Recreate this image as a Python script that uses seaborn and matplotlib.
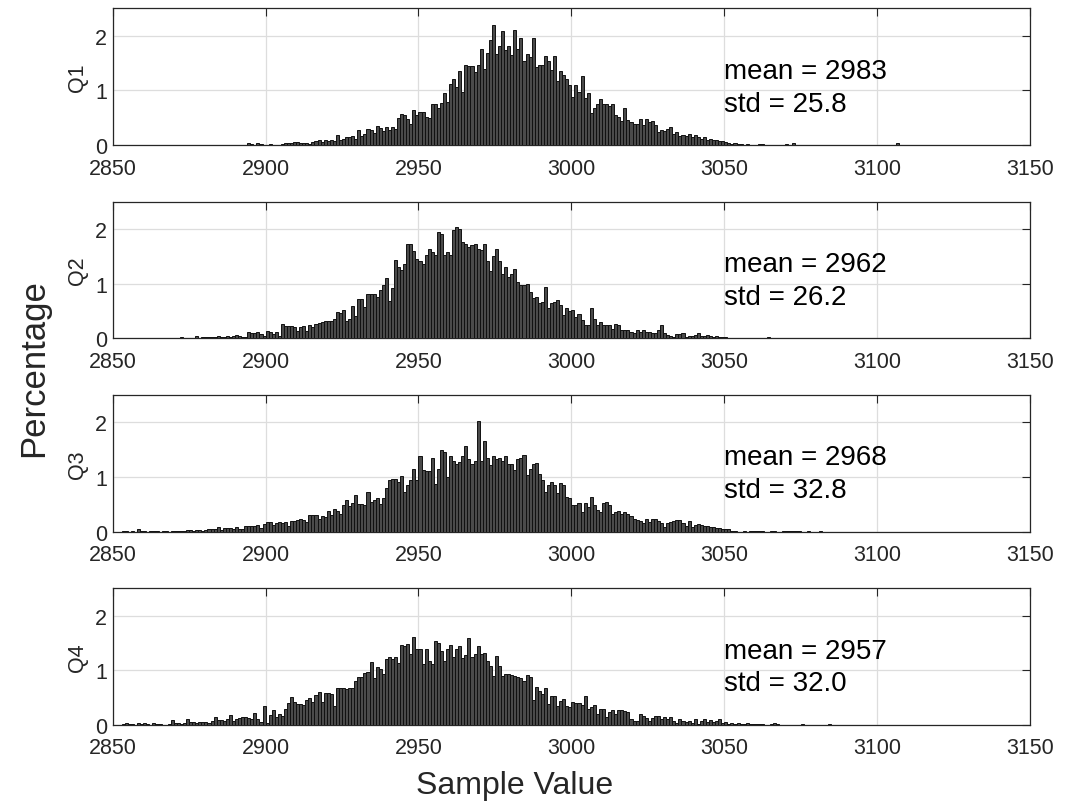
import numpy as np
import pandas as pd
import matplotlib
matplotlib.use("Agg")
import matplotlib.pyplot as plt
import seaborn as sns

# ---------------- data (percentage per 1-unit bin) ----------------
panel_labels = ["Q1", "Q2", "Q3", "Q4"]
means = [2983, 2962, 2968, 2957]
stds = [25.8, 26.2, 32.8, 32.0]

q1_start = 2877
q1_pct = [
    0.01, 0, 0, 0, 0, 0, 0, 0, 0, 0.01, 0.01, 0.01, 0, 0, 0, 0, 0,
    0.03, 0.02, 0, 0.03, 0.02, 0,
    0.0, 0.02, 0.01, 0.0, 0.01, 0.02, 0.03, 0.04, 0.04, 0.05,
    0.06, 0.04, 0.03, 0.03, 0.02, 0.05, 0.07, 0.09, 0.06, 0.1,
    0.08, 0.1, 0.08, 0.18, 0.1, 0.12, 0.15, 0.14, 0.17, 0.11,
    0.28, 0.17, 0.2, 0.3, 0.27, 0.22, 0.35, 0.31, 0.25, 0.33,
    0.27, 0.34, 0.3, 0.5,
    0.56, 0.55, 0.48, 0.39, 0.64, 0.55, 0.61, 0.61, 0.52, 0.5,
    0.76, 0.75, 0.68, 0.77, 0.95, 0.78, 1.11, 1.21, 1.07, 1.36,
    0.98, 1.47, 1.45, 1.45, 1.33, 1.47, 1.76, 1.39, 1.68, 1.92,
    2.19, 1.67, 1.82, 2.09, 1.73, 1.82, 1.65, 2.11, 1.76, 1.95,
    1.53, 1.67, 1.61, 1.95, 1.42, 1.47, 1.47, 1.62, 1.53, 1.38,
    1.62, 1.17, 1.35, 1.28, 1.21, 1.09, 0.88, 1.1, 0.98, 1.27,
    0.86, 0.95, 0.58, 0.67, 0.76, 0.85, 0.76, 0.76, 0.71, 0.76,
    0.55, 0.52, 0.44, 0.67, 0.45, 0.42, 0.38, 0.38, 0.48, 0.36,
    0.47, 0.42, 0.44, 0.36, 0.24, 0.28, 0.25, 0.3, 0.33, 0.21,
    0.24, 0.17, 0.18, 0.16, 0.21, 0.15, 0.19,
    0.14, 0.12, 0.15, 0.1, 0.12, 0.09, 0.1, 0.08, 0.07, 0.05,
    0.04, 0.02, 0.03, 0.02, 0.02, 0.01, 0.02, 0.01, 0, 0,
    0.02, 0.02, 0, 0, 0.01, 0, 0, 0, 0, 0.02, 0, 0.03,
    0, 0, 0, 0, 0, 0, 0, 0.01, 0, 0, 0, 0.01, 0, 0, 0, 0, 0, 0.01,
    0, 0, 0, 0, 0, 0, 0, 0, 0, 0, 0, 0, 0, 0, 0, 0.03,
]

q2_start = 2858
q2_pct = [
    0.01, 0, 0, 0, 0.01, 0, 0, 0, 0, 0.01, 0, 0, 0, 0, 0.02, 0, 0.01, 0, 0,
    0.04, 0.01, 0.02, 0.02, 0.03, 0.02, 0.03, 0.04, 0.03, 0.02, 0.05,
    0.03, 0.04, 0.06, 0.04, 0.03, 0.02, 0.12, 0.1, 0.1, 0.11, 0.08, 0.05,
    0.13, 0.12, 0.08, 0.11, 0.04, 0.26, 0.22, 0.22, 0.22, 0.2, 0.14,
    0.2, 0.23, 0.13, 0.24, 0.21, 0.26, 0.29, 0.3, 0.31, 0.32, 0.32,
    0.35, 0.48, 0.47, 0.52, 0.31, 0.36, 0.59, 0.41, 0.72, 0.72, 0.57,
    0.82, 0.82, 0.82, 0.76, 0.88, 0.98, 1.1, 0.68, 0.92, 1.44, 1.3,
    1.25, 1.36, 1.73, 1.72, 1.6, 1.45, 1.42, 1.36, 1.52, 1.64, 1.58,
    1.52, 1.94, 1.91, 1.52, 1.58, 1.52, 1.98, 2.03, 2.0, 1.76, 1.73,
    1.67, 1.7, 1.73, 1.64, 1.61, 1.73, 1.42, 1.24, 1.5, 1.64, 1.42,
    1.18, 1.3, 1.12, 1.18, 1.27, 1.03, 0.97, 0.97, 1.0, 0.85, 0.73,
    0.76, 0.64, 0.67, 0.94, 0.55, 0.64, 0.67, 0.7, 0.61, 0.42, 0.55,
    0.5, 0.52, 0.39, 0.45, 0.33, 0.24, 0.24, 0.55, 0.36, 0.24, 0.3,
    0.24, 0.24, 0.24, 0.18, 0.27, 0.24, 0.15, 0.15, 0.15, 0.12, 0.09,
    0.15, 0.12, 0.15, 0.12, 0.12, 0.09, 0.09, 0.15, 0.24, 0.09, 0.06,
    0.04, 0.02, 0.08, 0.08, 0.09, 0.03, 0.04, 0.04, 0.06, 0.09, 0.04,
    0.05, 0.06, 0.04, 0.03, 0.04, 0.02, 0.03, 0.02, 0, 0, 0, 0.01,
    0, 0, 0, 0, 0, 0, 0.01, 0, 0, 0.03, 0, 0, 0, 0, 0, 0, 0, 0, 0, 0,
    0.01, 0, 0, 0, 0.01,
]

q3_start = 2853
q3_pct = [
    0.02, 0.01, 0, 0.01, 0, 0.04, 0.01, 0.01, 0, 0.01, 0.01, 0.01, 0,
    0.01, 0.01, 0, 0.01, 0.01, 0.01, 0.01, 0.02, 0.03, 0.03, 0.02, 0.03,
    0.03, 0.02, 0.03, 0.05, 0.04, 0.04, 0.08, 0.03, 0.07, 0.06, 0.07,
    0.05, 0.08, 0.05, 0.04, 0.1, 0.1, 0.11, 0.1, 0.12, 0.07, 0.14,
    0.17, 0.17, 0.12, 0.16, 0.17, 0.15, 0.17, 0.1, 0.19, 0.2, 0.22,
    0.24, 0.21, 0.18, 0.31, 0.3, 0.3, 0.24, 0.28, 0.26, 0.38, 0.3,
    0.41, 0.38, 0.33, 0.49, 0.58, 0.47, 0.53, 0.67, 0.5, 0.5, 0.49,
    0.73, 0.55, 0.58, 0.61, 0.5, 0.61, 0.79, 0.95, 0.96, 0.96, 0.9,
    1.01, 0.73, 0.85, 0.95, 1.15, 0.95, 1.39, 1.12, 1.11, 1.11, 1.35,
    0.88, 1.15, 1.5, 1.45, 1.0, 1.38, 1.29, 1.24, 1.27, 1.39, 1.56,
    1.32, 1.23, 1.29, 2.02, 1.29, 1.65, 1.35, 1.21, 1.38, 1.33, 1.35,
    1.3, 1.38, 1.24, 1.23, 1.13, 1.33, 1.35, 1.41, 1.04, 1.15, 1.24,
    1.25, 1.06, 0.95, 0.73, 0.85, 0.91, 0.85, 0.7, 0.89, 0.85, 0.64,
    0.61, 0.48, 0.48, 0.52, 0.36, 0.52, 0.45, 0.64, 0.48, 0.39, 0.36,
    0.53, 0.55, 0.48, 0.33, 0.36, 0.38, 0.32, 0.36, 0.33, 0.28, 0.24,
    0.21, 0.19, 0.16, 0.24, 0.18, 0.24, 0.24, 0.19, 0.15, 0.08, 0.15,
    0.18, 0.19, 0.21, 0.22, 0.15, 0.1, 0.19, 0.08, 0.12, 0.14, 0.12,
    0.1, 0.11, 0.09, 0.08, 0.07, 0.06, 0.05, 0.04, 0.04, 0.02, 0.01,
    0, 0, 0.01, 0, 0.02, 0.01, 0.02, 0.01, 0.01, 0, 0, 0.01, 0.02, 0,
    0, 0.01, 0.02, 0.01, 0.02, 0.01, 0.01, 0, 0, 0.01, 0, 0, 0, 0.01,
]

q4_start = 2853
q4_pct = [
    0.02, 0.04, 0.01, 0.01, 0, 0.04, 0.01, 0.03, 0.01, 0, 0.03, 0.01,
    0.01, 0, 0, 0.01, 0.09, 0.04, 0.04, 0.02, 0.03, 0.11, 0.05, 0.05,
    0.04, 0.06, 0.06, 0.05, 0.04, 0.08, 0.14, 0.09, 0.09, 0.08, 0.1,
    0.18, 0.08, 0.1, 0.12, 0.15, 0.14, 0.12, 0.1, 0.21, 0.1, 0.06,
    0.34, 0.03, 0.18, 0.27, 0.15, 0.2, 0.17, 0.3, 0.4, 0.51, 0.42,
    0.38, 0.39, 0.36, 0.45, 0.49, 0.41, 0.55, 0.6, 0.42, 0.58, 0.58,
    0.56, 0.35, 0.67, 0.67, 0.68, 0.66, 0.67, 0.67, 0.8, 0.88, 0.88,
    0.95, 0.97, 1.15, 0.85, 1.05, 1.02, 0.93, 1.2, 1.24, 1.2, 1.25,
    1.13, 1.47, 1.44, 1.48, 1.29, 1.61, 1.39, 1.38, 1.11, 1.38, 1.17,
    1.11, 1.53, 1.5, 1.35, 1.17, 1.38, 1.47, 1.25, 1.38, 1.44, 1.22,
    1.27, 1.58, 1.25, 1.29, 1.44, 1.29, 1.32, 1.17, 1.08, 0.9, 1.26,
    1.07, 0.9, 0.93, 0.93, 0.92, 0.9, 0.88, 0.85, 0.81, 0.91, 0.88,
    0.45, 0.7, 0.62, 0.56, 0.67, 0.38, 0.52, 0.53, 0.35, 0.44, 0.47,
    0.34, 0.32, 0.42, 0.4, 0.4, 0.36, 0.53, 0.3, 0.32, 0.37, 0.2,
    0.29, 0.29, 0.14, 0.24, 0.28, 0.2, 0.28, 0.28, 0.26, 0.24, 0.11,
    0.08, 0.08, 0.2, 0.16, 0.12, 0.08, 0.12, 0.17, 0.17, 0.11, 0.14,
    0.11, 0.14, 0.08, 0.04, 0.11, 0.08, 0.05, 0.08, 0.04, 0.11, 0.02,
    0.08, 0.1, 0.06, 0.09, 0.05, 0.07, 0.1, 0.04, 0.06, 0.02, 0.03,
    0.02, 0.03, 0.02, 0.02, 0.03, 0.01, 0.02, 0.02, 0.01, 0.01, 0, 0,
    0.01, 0.03, 0.01, 0, 0, 0, 0, 0, 0, 0, 0.02, 0, 0, 0, 0, 0, 0, 0,
    0, 0.01,
]

starts = [q1_start, q2_start, q3_start, q4_start]
series = [q1_pct, q2_pct, q3_pct, q4_pct]

x_min, x_max = 2850, 3150
x_ticks = [2850, 2900, 2950, 3000, 3050, 3100, 3150]
y_ticks = [0, 1, 2]

# ---------------- style ----------------
sns.set_style("white")
plt.rcParams["font.family"] = ["Liberation Sans", "DejaVu Sans"]
axis_col = "#262626"

fig, axes = plt.subplots(4, 1, figsize=(10.73, 8.12), dpi=100)
fig.subplots_adjust(left=0.105, right=0.96, top=0.9885, bottom=0.106, hspace=0.413)

for ax, lab, st, vals, m, s in zip(axes, panel_labels, starts, series, means, stds):
    df = pd.DataFrame({"value": st + 0.5 + np.arange(len(vals)),
                       "pct": np.asarray(vals, dtype=float)})
    sns.histplot(data=df, x="value", weights="pct",
                 bins=x_max - x_min, binrange=(x_min, x_max), ax=ax,
                 color="#4a4a4a", edgecolor="#111111", linewidth=0.7,
                 alpha=1.0, zorder=3)
    ax.set_xlim(x_min, x_max)
    ax.set_ylim(0, 2.5)
    ax.set_xticks(x_ticks)
    ax.set_yticks(y_ticks)
    ax.set_xticklabels([str(t) for t in x_ticks])
    ax.set_yticklabels([str(t) for t in y_ticks])
    ax.grid(True, color="#dddddd", linewidth=0.9, zorder=0)
    ax.set_axisbelow(True)
    ax.tick_params(direction="in", length=6, width=0.8, colors=axis_col,
                   labelsize=15.5, top=True, right=True,
                   labelcolor=axis_col)
    ax.tick_params(axis="x", pad=9)
    ax.tick_params(axis="y", pad=4)
    for sp in ax.spines.values():
        sp.set_visible(True)
        sp.set_color(axis_col)
        sp.set_linewidth(0.9)
    ax.set_ylabel(lab, fontsize=15.5, color=axis_col, labelpad=5)
    ax.set_xlabel("")
    ax.text(3050, 1.36, f"mean = {m}", fontsize=20, va="center", ha="left",
            color="black", zorder=5)
    ax.text(3050, 0.76, f"std = {s:.1f}", fontsize=20, va="center", ha="left",
            color="black", zorder=5)

fig.text(515 / 1073, 1 - 786 / 812, "Sample Value", fontsize=23,
         ha="center", va="center", color=axis_col)
fig.text(34 / 1073, 1 - 368 / 812, "Percentage", fontsize=25, rotation=90,
         ha="center", va="center", color=axis_col)

fig.savefig("out.png", dpi=100)
